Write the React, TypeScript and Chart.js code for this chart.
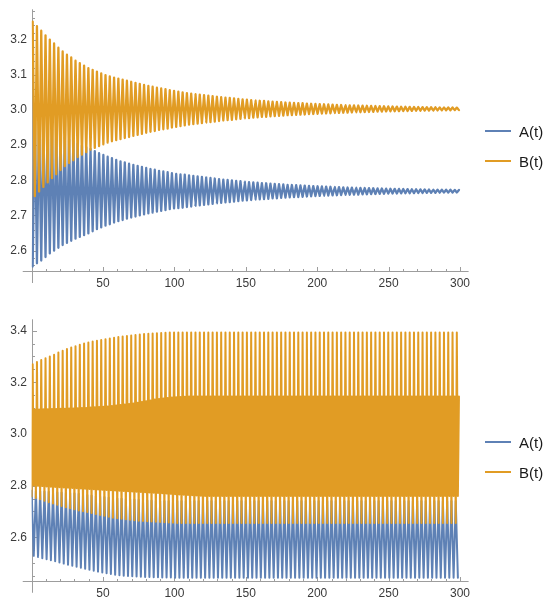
import React, { useEffect, useRef } from "react";
import { Chart, registerables } from "chart.js";

Chart.register(...registerables);

// ---------------- data ----------------
// one oscillation cycle lasts about 3 time units; one value per cycle
const CYCLE = 3;
const seriesNames = ["A(t)", "B(t)"];
const colorA = "#5E81B5";
const colorB = "#E19C24";

// upper panel: B(t) peaks / troughs per cycle
const topBPeaks = [
  3.251, 3.238, 3.225, 3.212, 3.2, 3.189, 3.177, 3.166, 3.157, 3.149,
  3.14, 3.133, 3.126, 3.119, 3.114, 3.109, 3.104, 3.099, 3.095, 3.092,
  3.089, 3.086, 3.083, 3.08, 3.077, 3.074, 3.071, 3.068, 3.066, 3.063,
  3.061, 3.059, 3.056, 3.054, 3.052, 3.05, 3.048, 3.0465, 3.045, 3.0435,
  3.042, 3.0405, 3.039, 3.0375, 3.036, 3.035, 3.034, 3.0325, 3.0315, 3.03,
  3.029, 3.028, 3.027, 3.026, 3.0255, 3.0245, 3.0235, 3.023, 3.022, 3.021,
  3.0205, 3.02, 3.0195, 3.019, 3.018, 3.0175, 3.017, 3.0165, 3.016, 3.0155,
  3.015, 3.0145, 3.014, 3.0135, 3.013, 3.0128, 3.0125, 3.012, 3.0118, 3.0114,
  3.011, 3.0107, 3.0103, 3.01, 3.0097, 3.0095, 3.0092, 3.009, 3.0087, 3.0085,
  3.0082, 3.008, 3.0078, 3.0076, 3.0074, 3.0072, 3.0071, 3.007, 3.0068, 3.0066,
];
const topBTroughs = [
  2.755, 2.768, 2.781, 2.794, 2.806, 2.817, 2.829, 2.84, 2.849, 2.857,
  2.866, 2.873, 2.88, 2.887, 2.892, 2.897, 2.902, 2.907, 2.911, 2.914,
  2.917, 2.92, 2.923, 2.926, 2.929, 2.932, 2.935, 2.938, 2.94, 2.943,
  2.945, 2.947, 2.95, 2.952, 2.954, 2.956, 2.958, 2.9595, 2.961, 2.9625,
  2.964, 2.9655, 2.967, 2.9685, 2.97, 2.971, 2.972, 2.9735, 2.9745, 2.976,
  2.977, 2.978, 2.979, 2.98, 2.9805, 2.9815, 2.9825, 2.983, 2.984, 2.985,
  2.9855, 2.986, 2.9865, 2.987, 2.988, 2.9885, 2.989, 2.9895, 2.99, 2.9905,
  2.991, 2.9915, 2.992, 2.9925, 2.993, 2.9932, 2.9935, 2.994, 2.9942, 2.9946,
  2.995, 2.9953, 2.9957, 2.996, 2.9963, 2.9965, 2.9968, 2.997, 2.9973, 2.9975,
  2.9978, 2.998, 2.9982, 2.9984, 2.9986, 2.9988, 2.9989, 2.999, 2.9992, 2.9994,
];
// upper panel: A(t) peaks / troughs per cycle
const topAPeaks = [
  2.983, 2.974, 2.966, 2.956, 2.946, 2.938, 2.93, 2.922, 2.916, 2.91,
  2.904, 2.899, 2.894, 2.889, 2.883, 2.877, 2.872, 2.867, 2.863, 2.858,
  2.854, 2.851, 2.847, 2.844, 2.841, 2.838, 2.835, 2.832, 2.83, 2.827,
  2.825, 2.823, 2.82, 2.818, 2.817, 2.816, 2.814, 2.8125, 2.811, 2.8095,
  2.808, 2.8065, 2.805, 2.8035, 2.802, 2.801, 2.8, 2.7985, 2.7975, 2.796,
  2.795, 2.794, 2.793, 2.792, 2.7915, 2.7905, 2.7895, 2.789, 2.788, 2.787,
  2.7865, 2.786, 2.7855, 2.785, 2.784, 2.7835, 2.783, 2.7825, 2.782, 2.7815,
  2.781, 2.7805, 2.78, 2.7795, 2.779, 2.7788, 2.7785, 2.778, 2.7778, 2.7774,
  2.777, 2.7767, 2.7763, 2.776, 2.7757, 2.7755, 2.7752, 2.775, 2.7747, 2.7745,
  2.7742, 2.774, 2.7738, 2.7736, 2.7734, 2.7732, 2.7731, 2.773, 2.7728, 2.7726,
];
const topATroughs = [
  2.555, 2.564, 2.572, 2.582, 2.592, 2.6, 2.608, 2.616, 2.622, 2.628,
  2.634, 2.639, 2.644, 2.649, 2.655, 2.661, 2.666, 2.671, 2.675, 2.68,
  2.684, 2.687, 2.691, 2.694, 2.697, 2.7, 2.703, 2.706, 2.708, 2.711,
  2.713, 2.715, 2.718, 2.72, 2.721, 2.722, 2.724, 2.7255, 2.727, 2.7285,
  2.73, 2.7315, 2.733, 2.7345, 2.736, 2.737, 2.738, 2.7395, 2.7405, 2.742,
  2.743, 2.744, 2.745, 2.746, 2.7465, 2.7475, 2.7485, 2.749, 2.75, 2.751,
  2.7515, 2.752, 2.7525, 2.753, 2.754, 2.7545, 2.755, 2.7555, 2.756, 2.7565,
  2.757, 2.7575, 2.758, 2.7585, 2.759, 2.7592, 2.7595, 2.76, 2.7602, 2.7606,
  2.761, 2.7613, 2.7617, 2.762, 2.7623, 2.7625, 2.7628, 2.763, 2.7633, 2.7635,
  2.7638, 2.764, 2.7642, 2.7644, 2.7646, 2.7648, 2.7649, 2.765, 2.7652, 2.7654,
];

// lower panel: B(t) - trough, big peak, middle dip, small peak per cycle
const lowBTroughs = [
  2.758, 2.752, 2.747, 2.741, 2.736, 2.731, 2.726, 2.721, 2.716, 2.712,
  2.708, 2.704, 2.701, 2.698, 2.694, 2.69, 2.686, 2.683, 2.679, 2.676,
  2.674, 2.672, 2.67, 2.668, 2.666, 2.664, 2.663, 2.662, 2.661, 2.66,
  2.659, 2.658, 2.657, 2.656, 2.655, 2.655, 2.655, 2.655, 2.655, 2.655,
  2.655, 2.655, 2.655, 2.655, 2.655, 2.655, 2.655, 2.655, 2.655, 2.655,
  2.655, 2.655, 2.655, 2.655, 2.655, 2.655, 2.655, 2.655, 2.655, 2.655,
  2.655, 2.655, 2.655, 2.655, 2.655, 2.655, 2.655, 2.655, 2.655, 2.655,
  2.655, 2.655, 2.655, 2.655, 2.655, 2.655, 2.655, 2.655, 2.655, 2.655,
  2.655, 2.655, 2.655, 2.655, 2.655, 2.655, 2.655, 2.655, 2.655, 2.655,
  2.655, 2.655, 2.655, 2.655, 2.655, 2.655, 2.655, 2.655, 2.655, 2.655,
];
const lowBBigPeaks = [
  3.27, 3.279, 3.286, 3.293, 3.3, 3.307, 3.315, 3.322, 3.329, 3.335,
  3.34, 3.345, 3.35, 3.354, 3.358, 3.361, 3.364, 3.367, 3.37, 3.373,
  3.375, 3.377, 3.379, 3.381, 3.383, 3.385, 3.387, 3.388, 3.389, 3.39,
  3.391, 3.392, 3.393, 3.393, 3.393, 3.393, 3.393, 3.393, 3.393, 3.393,
  3.393, 3.393, 3.393, 3.393, 3.393, 3.393, 3.393, 3.393, 3.393, 3.393,
  3.393, 3.393, 3.393, 3.393, 3.393, 3.393, 3.393, 3.393, 3.393, 3.393,
  3.393, 3.393, 3.393, 3.393, 3.393, 3.393, 3.393, 3.393, 3.393, 3.393,
  3.393, 3.393, 3.393, 3.393, 3.393, 3.393, 3.393, 3.393, 3.393, 3.393,
  3.393, 3.393, 3.393, 3.393, 3.393, 3.393, 3.393, 3.393, 3.393, 3.393,
  3.393, 3.393, 3.393, 3.393, 3.393, 3.393, 3.393, 3.393, 3.393, 3.393,
];
const lowBMidDips = [
  2.8, 2.799, 2.798, 2.797, 2.796, 2.795, 2.794, 2.793, 2.792, 2.791,
  2.79, 2.789, 2.788, 2.787, 2.786, 2.785, 2.784, 2.783, 2.782, 2.781,
  2.78, 2.779, 2.778, 2.777, 2.776, 2.775, 2.774, 2.773, 2.772, 2.771,
  2.77, 2.769, 2.768, 2.767, 2.766, 2.765, 2.764, 2.763, 2.762, 2.761,
  2.76, 2.76, 2.76, 2.76, 2.76, 2.76, 2.76, 2.76, 2.76, 2.76,
  2.76, 2.76, 2.76, 2.76, 2.76, 2.76, 2.76, 2.76, 2.76, 2.76,
  2.76, 2.76, 2.76, 2.76, 2.76, 2.76, 2.76, 2.76, 2.76, 2.76,
  2.76, 2.76, 2.76, 2.76, 2.76, 2.76, 2.76, 2.76, 2.76, 2.76,
  2.76, 2.76, 2.76, 2.76, 2.76, 2.76, 2.76, 2.76, 2.76, 2.76,
  2.76, 2.76, 2.76, 2.76, 2.76, 2.76, 2.76, 2.76, 2.76, 2.76,
];
const lowBSmallPeaks = [
  3.095, 3.095, 3.096, 3.096, 3.097, 3.097, 3.098, 3.098, 3.099, 3.099,
  3.1, 3.101, 3.101, 3.102, 3.103, 3.104, 3.105, 3.106, 3.108, 3.11,
  3.112, 3.114, 3.116, 3.118, 3.121, 3.124, 3.127, 3.13, 3.133, 3.135,
  3.137, 3.139, 3.141, 3.142, 3.143, 3.144, 3.145, 3.145, 3.145, 3.145,
  3.145, 3.145, 3.145, 3.145, 3.145, 3.145, 3.145, 3.145, 3.145, 3.145,
  3.145, 3.145, 3.145, 3.145, 3.145, 3.145, 3.145, 3.145, 3.145, 3.145,
  3.145, 3.145, 3.145, 3.145, 3.145, 3.145, 3.145, 3.145, 3.145, 3.145,
  3.145, 3.145, 3.145, 3.145, 3.145, 3.145, 3.145, 3.145, 3.145, 3.145,
  3.145, 3.145, 3.145, 3.145, 3.145, 3.145, 3.145, 3.145, 3.145, 3.145,
  3.145, 3.145, 3.145, 3.145, 3.145, 3.145, 3.145, 3.145, 3.145, 3.145,
];
// lower panel: A(t) peaks / troughs per cycle
const lowAPeaks = [
  2.78, 2.779, 2.778, 2.777, 2.776, 2.775, 2.774, 2.773, 2.772, 2.771,
  2.77, 2.768, 2.766, 2.764, 2.762, 2.76, 2.758, 2.756, 2.754, 2.752,
  2.75, 2.749, 2.748, 2.747, 2.746, 2.745, 2.744, 2.743, 2.742, 2.741,
  2.74, 2.74, 2.74, 2.74, 2.74, 2.74, 2.74, 2.74, 2.74, 2.74,
  2.74, 2.74, 2.74, 2.74, 2.74, 2.74, 2.74, 2.74, 2.74, 2.74,
  2.74, 2.74, 2.74, 2.74, 2.74, 2.74, 2.74, 2.74, 2.74, 2.74,
  2.74, 2.74, 2.74, 2.74, 2.74, 2.74, 2.74, 2.74, 2.74, 2.74,
  2.74, 2.74, 2.74, 2.74, 2.74, 2.74, 2.74, 2.74, 2.74, 2.74,
  2.74, 2.74, 2.74, 2.74, 2.74, 2.74, 2.74, 2.74, 2.74, 2.74,
  2.74, 2.74, 2.74, 2.74, 2.74, 2.74, 2.74, 2.74, 2.74, 2.74,
];
const lowATroughs = [
  2.528, 2.524, 2.519, 2.515, 2.511, 2.507, 2.502, 2.498, 2.494, 2.49,
  2.486, 2.482, 2.478, 2.474, 2.47, 2.467, 2.464, 2.461, 2.458, 2.455,
  2.453, 2.451, 2.45, 2.449, 2.448, 2.447, 2.446, 2.446, 2.445, 2.445,
  2.444, 2.444, 2.444, 2.443, 2.443, 2.443, 2.443, 2.443, 2.443, 2.443,
  2.443, 2.443, 2.443, 2.443, 2.443, 2.443, 2.443, 2.443, 2.443, 2.443,
  2.443, 2.443, 2.443, 2.443, 2.443, 2.443, 2.443, 2.443, 2.443, 2.443,
  2.443, 2.443, 2.443, 2.443, 2.443, 2.443, 2.443, 2.443, 2.443, 2.443,
  2.443, 2.443, 2.443, 2.443, 2.443, 2.443, 2.443, 2.443, 2.443, 2.443,
  2.443, 2.443, 2.443, 2.443, 2.443, 2.443, 2.443, 2.443, 2.443, 2.443,
  2.443, 2.443, 2.443, 2.443, 2.443, 2.443, 2.443, 2.443, 2.443, 2.443,
];

// tick labels
const xTickLabels = [50, 100, 150, 200, 250, 300];
const topYTickLabels = [2.6, 2.7, 2.8, 2.9, 3.0, 3.1, 3.2];
const lowYTickLabels = [2.6, 2.8, 3.0, 3.2, 3.4];

// ---------------- helpers ----------------
// Build the line's points: each cycle visits the listed values at the given phase fractions.
function cyclePoints(phases: number[], values: number[][]) {
  const pts: { x: number; y: number }[] = [];
  const n = values[0].length;
  for (let k = 0; k < n; k++) {
    for (let j = 0; j < phases.length; j++) {
      pts.push({ x: CYCLE * (k + phases[j]), y: values[j][k] });
    }
  }
  return pts;
}

const AXIS_COLOR = "#9d9d9d";
const LABEL_COLOR = "#3a3a3a";
const TICK_FONT = "12px 'Liberation Sans', Arial, sans-serif";

const mathAxes = {
  id: "mathAxes",
  beforeDatasetsDraw(chart: any, _args: any, opts: any) {
    const { ctx, chartArea, scales } = chart;
    const xs = scales.x;
    const ys = scales.y;
    const ax = Math.round(xs.getPixelForValue(0)) + 0.5;
    const ay = Math.round(ys.getPixelForValue(ys.min)) + 0.5;
    ctx.save();
    ctx.strokeStyle = AXIS_COLOR;
    ctx.lineWidth = 1;
    ctx.beginPath();
    ctx.moveTo(xs.getPixelForValue(opts.xFrom), ay);
    ctx.lineTo(chartArea.right, ay);
    ctx.moveTo(ax, chartArea.top);
    ctx.lineTo(ax, ys.getPixelForValue(opts.yTo));
    // x ticks (inward)
    const nx = Math.floor(xs.max / opts.xMinorStep + 1e-9);
    for (let i = 1; i <= nx; i++) {
      const v = i * opts.xMinorStep;
      const major = Math.abs(v / opts.xMajorStep - Math.round(v / opts.xMajorStep)) < 1e-6;
      const px = Math.round(xs.getPixelForValue(v)) + 0.5;
      ctx.moveTo(px, ay);
      ctx.lineTo(px, ay - (major ? 4.5 : 2.5));
    }
    // y ticks (inward)
    const i0 = Math.ceil(ys.min / opts.yMinorStep - 1e-9);
    const i1 = Math.floor(ys.max / opts.yMinorStep + 1e-9);
    for (let i = i0; i <= i1; i++) {
      const v = i * opts.yMinorStep;
      const major = Math.abs(v / opts.yMajorStep - Math.round(v / opts.yMajorStep)) < 1e-6;
      const py = Math.round(ys.getPixelForValue(v)) + 0.5;
      ctx.moveTo(ax, py);
      ctx.lineTo(ax + (major ? 4.5 : 2.5), py);
    }
    ctx.stroke();
    // labels
    ctx.fillStyle = LABEL_COLOR;
    ctx.font = TICK_FONT;
    ctx.textBaseline = "middle";
    ctx.textAlign = "center";
    for (const v of opts.xLabels) {
      ctx.fillText(String(v), xs.getPixelForValue(v), ay + 12);
    }
    ctx.textAlign = "right";
    for (const v of opts.yLabels) {
      ctx.fillText(v.toFixed(1), ax - 5.5, ys.getPixelForValue(v));
    }
    ctx.restore();
  },
};

type PanelProps = {
  height: number;
  padding: { left: number; right: number; top: number; bottom: number };
  xMax: number;
  yMin: number;
  yMax: number;
  datasets: any[];
  axes: any;
  legendY: number[];
};

function Panel(props: PanelProps) {
  const ref = useRef<HTMLCanvasElement | null>(null);
  useEffect(() => {
    if (!ref.current) return;
    const chart = new Chart(ref.current, {
      type: "line",
      data: { datasets: props.datasets },
      options: {
        animation: false,
        responsive: false,
        maintainAspectRatio: false,
        parsing: false,
        normalized: true,
        events: [],
        layout: { padding: props.padding },
        // a tiny tension keeps Chart.js off its pixel-merging fast path
        elements: {
          point: { radius: 0 },
          line: { tension: 0.000001, borderJoinStyle: "round", borderCapStyle: "round" },
        },
        scales: {
          x: { type: "linear", min: 0, max: props.xMax, display: false },
          y: { type: "linear", min: props.yMin, max: props.yMax, display: false },
        },
        plugins: {
          legend: { display: false },
          tooltip: { enabled: false },
          mathAxes: props.axes,
        } as any,
      },
      plugins: [mathAxes],
    });
    return () => chart.destroy();
  }, []);
  const colors = [colorA, colorB];
  return (
    <div style={{ position: "relative", width: 547, height: props.height }}>
      <canvas ref={ref} width={547} height={props.height} style={{ display: "block" }} />
      {seriesNames.map((name, i) => (
        <div
          key={name}
          style={{
            position: "absolute",
            left: 485,
            top: props.legendY[i] - 10,
            height: 20,
            display: "flex",
            alignItems: "center",
            fontFamily: "'Liberation Sans', Arial, sans-serif",
            fontSize: 15,
            color: "#1a1a1a",
            whiteSpace: "nowrap",
          }}
        >
          <span style={{ display: "inline-block", width: 26, height: 2, background: colors[i], marginRight: 8 }} />
          <span>{name}</span>
        </div>
      ))}
    </div>
  );
}

export default function App() {
  const topLw = 2.3;
  const lowLw = 2.0;
  const topDatasets = [
    { label: seriesNames[1], data: cyclePoints([0.25, 0.75], [topBPeaks, topBTroughs]), borderColor: colorB, borderWidth: topLw, order: 0 },
    { label: seriesNames[0], data: cyclePoints([0.25, 0.75], [topATroughs, topAPeaks]), borderColor: colorA, borderWidth: topLw, order: 1 },
  ];
  const lowDatasets = [
    {
      label: seriesNames[1],
      data: cyclePoints([0, 0.25, 0.5, 0.75], [lowBTroughs, lowBBigPeaks, lowBMidDips, lowBSmallPeaks]),
      borderColor: colorB,
      borderWidth: lowLw,
      order: 0,
    },
    { label: seriesNames[0], data: cyclePoints([0, 0.5], [lowAPeaks, lowATroughs]), borderColor: colorA, borderWidth: lowLw, order: 1 },
  ];
  return (
    <div style={{ position: "absolute", left: 0, top: 0, width: 547, height: 599, background: "#fff" }}>
      <Panel
        height={300}
        padding={{ left: 31.6, right: 78.4, top: 9.3, bottom: 29.3 }}
        xMax={306}
        yMin={2.543}
        yMax={3.286}
        datasets={topDatasets}
        axes={{ xFrom: -6.2, yTo: 2.508, xMinorStep: 10, xMajorStep: 50, yMinorStep: 0.02, yMajorStep: 0.1, xLabels: xTickLabels, yLabels: topYTickLabels }}
        legendY={[131, 161]}
      />
      <Panel
        height={299}
        padding={{ left: 31.6, right: 78.4, top: 19.3, bottom: 18.1 }}
        xMax={306}
        yMin={2.431}
        yMax={3.444}
        datasets={lowDatasets}
        axes={{ xFrom: -6.2, yTo: 2.385, xMinorStep: 10, xMajorStep: 50, yMinorStep: 0.05, yMajorStep: 0.2, xLabels: xTickLabels, yLabels: lowYTickLabels }}
        legendY={[142, 172]}
      />
    </div>
  );
}
